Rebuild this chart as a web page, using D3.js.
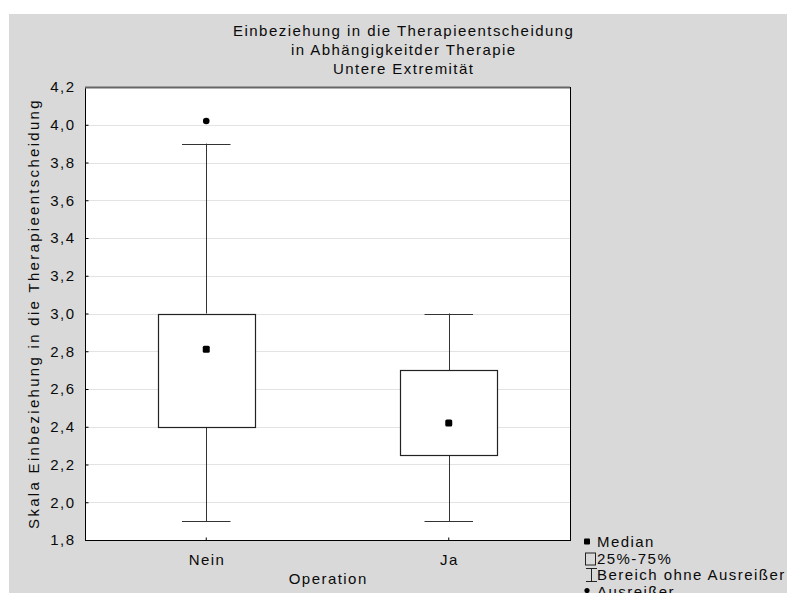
<!DOCTYPE html>
<html>
<head>
<meta charset="utf-8">
<script src="https://cdn.jsdelivr.net/npm/d3@7"></script>
<style>
  html, body { margin: 0; padding: 0; background: #fff; }
  svg { display: block; font-family: "Liberation Sans", Arial, sans-serif; }
  svg text { letter-spacing: 1.45px; }
</style>
</head>
<body>
<svg id="chart" width="787" height="593"></svg>
<script>
// Box plot data: one entry per category
const categories = ["Nein", "Ja"];
const medians    = [2.81, 2.42];
const q1         = [2.40, 2.25];
const q3         = [3.00, 2.70];
const whiskerLo  = [1.90, 1.90];
const whiskerHi  = [3.90, 3.00];
const outliers   = [[4.02], []];
const yTicks     = [1.8, 2.0, 2.2, 2.4, 2.6, 2.8, 3.0, 3.2, 3.4, 3.6, 3.8, 4.0, 4.2];
const titleLines = ["Einbeziehung in die Therapieentscheidung", "in Abhängigkeitder Therapie", "Untere Extremität"];
const legendItems = ["Median", "25%-75%", "Bereich ohne Ausreißer", "Ausreißer"];

const svg = d3.select("#chart");
const W = 787, H = 593;
const plot = { left: 85, top: 87, right: 570, bottom: 540 };
const FS = 15, LS = 1.45;
const INK = "#0a0a0a";

// grey panel
svg.append("rect").attr("x", 9).attr("y", 14).attr("width", W - 9).attr("height", H - 14).attr("fill", "#d9d9d9");

const x = d3.scaleBand().domain(categories).range([plot.left, plot.right]);
const y = d3.scaleLinear().domain([1.8, 4.2]).range([plot.bottom, plot.top]);
const boxW = (plot.right - plot.left) * 0.2;
const capW = (plot.right - plot.left) * 0.1;
const cx = c => x(c) + x.bandwidth() / 2;

// plot area
svg.append("rect").attr("x", plot.left).attr("y", plot.top)
  .attr("width", plot.right - plot.left).attr("height", plot.bottom - plot.top).attr("fill", "#fff");

// grid lines
svg.append("g").selectAll("line").data(yTicks.slice(1, -1)).join("line")
  .attr("x1", plot.left).attr("x2", plot.right)
  .attr("y1", d => Math.round(y(d)) + 0.5).attr("y2", d => Math.round(y(d)) + 0.5)
  .attr("stroke", "#e3e3e3").attr("stroke-width", 1);

// y axis with inward ticks
const yAxis = d3.axisLeft(y).tickValues(yTicks).tickSize(-3).tickPadding(10)
  .tickFormat(d => d3.format(".1f")(d).replace(".", ","));
const gy = svg.append("g").attr("transform", `translate(${plot.left + 0.5},0)`).call(yAxis);
gy.select(".domain").remove();
gy.selectAll("line").attr("stroke", "#000");
gy.selectAll("text").attr("font-size", FS).attr("fill", INK)
  .attr("font-family", "Liberation Sans, Arial, sans-serif");

// x axis with inward ticks
const xAxis = d3.axisBottom(x).tickSize(-3).tickPadding(14);
const gx = svg.append("g").attr("transform", `translate(0,${plot.bottom + 0.5})`).call(xAxis);
gx.select(".domain").remove();
gx.selectAll("line").attr("stroke", "#000");
gx.selectAll("text").attr("font-size", FS).attr("fill", INK).attr("dx", LS / 2)
  .attr("font-family", "Liberation Sans, Arial, sans-serif");

// frame
svg.append("rect").attr("x", plot.left + 0.5).attr("y", plot.top + 0.5)
  .attr("width", plot.right - plot.left).attr("height", plot.bottom - plot.top)
  .attr("fill", "none").attr("stroke", "#000").attr("stroke-width", 1);
svg.append("line").attr("x1", plot.left).attr("x2", plot.right)
  .attr("y1", plot.top + 0.5).attr("y2", plot.top + 0.5)
  .attr("stroke", "#666").attr("stroke-width", 2);

// boxes
const boxes = svg.append("g").selectAll("g").data(categories).join("g");
boxes.append("line")
  .attr("x1", (d) => Math.round(cx(d)) + 0.5).attr("x2", (d) => Math.round(cx(d)) + 0.5)
  .attr("y1", (d, i) => y(whiskerHi[i])).attr("y2", (d, i) => y(q3[i]))
  .attr("stroke", "#333");
boxes.append("line")
  .attr("x1", (d) => Math.round(cx(d)) + 0.5).attr("x2", (d) => Math.round(cx(d)) + 0.5)
  .attr("y1", (d, i) => y(q1[i])).attr("y2", (d, i) => y(whiskerLo[i]))
  .attr("stroke", "#333");
boxes.append("line")
  .attr("x1", d => cx(d) - capW / 2).attr("x2", d => cx(d) + capW / 2)
  .attr("y1", (d, i) => Math.round(y(whiskerHi[i])) + 0.5).attr("y2", (d, i) => Math.round(y(whiskerHi[i])) + 0.5)
  .attr("stroke", "#333");
boxes.append("line")
  .attr("x1", d => cx(d) - capW / 2).attr("x2", d => cx(d) + capW / 2)
  .attr("y1", (d, i) => Math.round(y(whiskerLo[i])) + 0.5).attr("y2", (d, i) => Math.round(y(whiskerLo[i])) + 0.5)
  .attr("stroke", "#333");
boxes.append("rect")
  .attr("x", d => Math.round(cx(d) - boxW / 2) + 0.5)
  .attr("y", (d, i) => Math.round(y(q3[i])) + 0.5)
  .attr("width", Math.round(boxW))
  .attr("height", (d, i) => Math.round(y(q1[i])) - Math.round(y(q3[i])))
  .attr("fill", "#fff").attr("stroke", "#222").attr("stroke-width", 1.2);
boxes.append("rect")
  .attr("x", d => cx(d) - 3.5).attr("y", (d, i) => y(medians[i]) - 3.5)
  .attr("width", 7).attr("height", 7).attr("rx", 1.5).attr("fill", "#000");
boxes.selectAll("circle").data((d, i) => outliers[i].map(v => ({ c: d, v }))).join("circle")
  .attr("cx", o => cx(o.c)).attr("cy", o => y(o.v)).attr("r", 3.3).attr("fill", "#000");

// title
svg.append("text").attr("x", 403).attr("y", 36).attr("text-anchor", "middle")
  .attr("font-size", FS).attr("fill", INK)
  .selectAll("tspan").data(titleLines).join("tspan")
  .attr("x", 403 + LS / 2).attr("dy", (d, i) => i === 0 ? 0 : 19).text(d => d);

// axis titles
svg.append("text").attr("transform", `translate(39,${(plot.top + plot.bottom) / 2}) rotate(-90)`)
  .attr("text-anchor", "middle").attr("font-size", FS).attr("fill", INK)
  .style("letter-spacing", "2.3px")
  .text("Skala Einbeziehung in die Therapieentscheidung");
svg.append("text").attr("x", (plot.left + plot.right) / 2 + LS / 2).attr("y", 584)
  .attr("text-anchor", "middle").attr("font-size", FS).attr("fill", INK)
  .text("Operation");

// legend
const lg = svg.append("g");
const lx = 587, ly0 = 542, lstep = 16.5;
lg.selectAll("text").data(legendItems).join("text")
  .attr("x", lx + 10).attr("y", (d, i) => ly0 + i * lstep + 5)
  .attr("font-size", FS).attr("fill", INK).text(d => d);
lg.append("rect").attr("x", lx - 3).attr("y", ly0 - 3.5).attr("width", 6).attr("height", 6).attr("rx", 1).attr("fill", "#000");
lg.append("rect").attr("x", lx - 1.5).attr("y", ly0 + lstep - 5.5).attr("width", 10).attr("height", 12)
  .attr("fill", "none").attr("stroke", "#222");
const wy = ly0 + 2 * lstep;
lg.append("path").attr("d", `M${lx - 1},${wy - 6.5}H${lx + 10}M${lx + 4.5},${wy - 6.5}V${wy + 6.5}M${lx - 1},${wy + 6.5}H${lx + 10}`)
  .attr("stroke", "#222").attr("fill", "none");
lg.append("circle").attr("cx", lx).attr("cy", ly0 + 3 * lstep - 1).attr("r", 2.6).attr("fill", "#000");
</script>
</body>
</html>
